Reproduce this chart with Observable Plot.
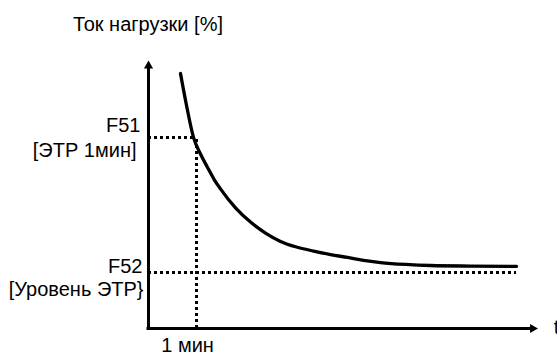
<!DOCTYPE html>
<html>
<head>
<meta charset="utf-8">
<script src="https://cdn.jsdelivr.net/npm/d3@7"></script>
<script src="https://cdn.jsdelivr.net/npm/@observablehq/plot@0.6"></script>
<style>
  html, body { margin: 0; padding: 0; background: #fff; }
  #wrap { position: relative; width: 557px; height: 353px; overflow: hidden; background: #fff; }
  #title { position: absolute; left: 148px; top: 14px; transform: translateX(-50%);
           font-family: "Liberation Sans", Arial, sans-serif; font-size: 20px; line-height: 20px;
           white-space: nowrap; color: #000; }
  #chart { position: absolute; left: 0; top: 40px; }
</style>
</head>
<body>
<div id="wrap">
  <div id="title"></div>
  <div id="chart"></div>
</div>
<script>
// ---- data ----
const titleText = "Ток нагрузки [%]";
const timeLabel = "t";
const minuteLabel = "1 мин";
const levelNames = ["F51", "F52"];
const levelNotes = ["[ЭТР 1мин]", "[Уровень ЭТР}"];
const levelValues = [71.3, 20.9];          // F51, F52 load level (axis units)
const minuteMark = 1;                      // 1 minute on the time axis
const f51Crossing = 0.94;                  // time where the curve meets F51
const curveT    = [0.666, 0.802, 0.937, 1.083, 1.229, 1.374, 1.499, 1.812, 2.124, 2.436, 2.749, 3.082, 3.436, 3.790, 4.144, 4.477, 4.831, 5.352, 5.873, 6.706, 7.664];
const curveLoad = [95.15, 82.3, 71.3, 65.1, 60.1, 55.4, 52.1, 45.0, 39.7, 35.6, 32.5, 30.4, 28.9, 27.6, 26.5, 25.4, 24.6, 23.9, 23.5, 23.3, 23.2];
const xAxisEnd = 8.0;
const yAxisEnd = 98;

document.getElementById("title").textContent = titleText;

const curve = curveT.map((t, i) => ({t, load: curveLoad[i]}));
const levels = levelNames.map((name, i) => ({name, note: levelNotes[i], value: levelValues[i]}));
const FONT = "'Liberation Sans', Arial, sans-serif";

const plot = Plot.plot({
  width: 557,
  height: 313,
  marginLeft: 148,
  marginRight: 20,
  marginTop: 20,
  marginBottom: 25,
  x: {domain: [0, 8.1], axis: null},
  y: {domain: [0, 100], axis: null},
  style: {fontFamily: FONT, fontSize: "20px", background: "white", color: "black", overflow: "visible"},
  marks: [
    // dotted guide lines
    Plot.ruleY([levels[0]], {y: "value", x1: 0, x2: f51Crossing, stroke: "black", strokeWidth: 3, strokeDasharray: "3,3"}),
    Plot.ruleX([minuteMark], {y1: 0, y2: levels[0].value, stroke: "black", strokeWidth: 3, strokeDasharray: "3,3"}),
    Plot.ruleY([levels[1]], {y: "value", x1: 0, x2: curveT[curveT.length - 1], stroke: "black", strokeWidth: 3, strokeDasharray: "3,3"}),
    // axes with arrowheads
    Plot.ruleX([0], {y1: 0, y2: yAxisEnd, stroke: "black", strokeWidth: 3, strokeLinecap: "square"}),
    Plot.ruleY([0], {x1: 0, x2: xAxisEnd, stroke: "black", strokeWidth: 3, strokeLinecap: "square"}),
    Plot.dot([{x: 0, y: yAxisEnd}], {x: "x", y: "y", symbol: "triangle", r: 3.4, fill: "black", stroke: null}),
    Plot.dot([{x: xAxisEnd, y: 0}], {x: "x", y: "y", symbol: "triangle", r: 3.4, fill: "black", stroke: null, rotate: 90}),
    // curve
    Plot.line(curve, {x: "t", y: "load", curve: "monotone-x", stroke: "black", strokeWidth: 3.3}),
    // level labels
    Plot.text([levels[0]], {x: 0, y: "value", text: "name", textAnchor: "end", dx: -8, dy: -11.5, fill: "black"}),
    Plot.text([levels[0]], {x: 0, y: "value", text: "note", textAnchor: "end", dx: -12, dy: 13.5, fill: "black"}),
    Plot.text([levels[1]], {x: 0, y: "value", text: "name", textAnchor: "end", dx: -6, dy: -5.5, fill: "black"}),
    Plot.text([levels[1]], {x: 0, y: "value", text: "note", textAnchor: "end", dx: -5, dy: 17, fill: "black"}),
    // axis labels
    Plot.text([minuteLabel], {x: minuteMark, y: 0, text: d => d, dx: -9, dy: 17, fill: "black"}),
    Plot.text([timeLabel], {x: xAxisEnd, y: 0, text: d => d, textAnchor: "start", dx: 21, dy: -1, fill: "black"})
  ]
});
document.getElementById("chart").appendChild(plot);
</script>
</body>
</html>
